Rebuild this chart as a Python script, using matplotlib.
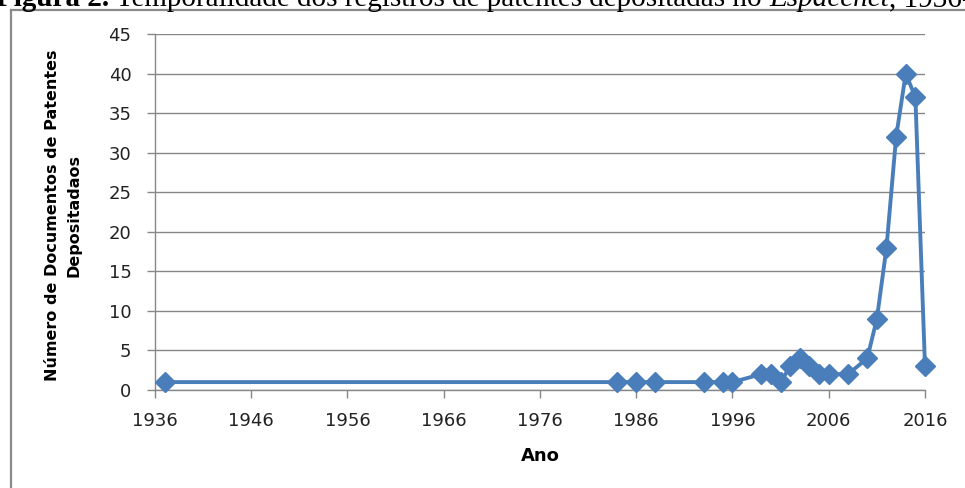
import matplotlib
matplotlib.use("Agg")
import matplotlib.pyplot as plt
from matplotlib.lines import Line2D

# Patent filings per year
years = [1937, 1984, 1986, 1988, 1993, 1995, 1996, 1999, 2000, 2001, 2002,
         2003, 2004, 2005, 2006, 2008, 2010, 2011, 2012, 2013, 2014, 2015, 2016]
counts = [1, 1, 1, 1, 1, 1, 1, 2, 2, 1, 3,
          4, 3, 2, 2, 2, 4, 9, 18, 32, 40, 37, 3]

x_ticks = [1936, 1946, 1956, 1966, 1976, 1986, 1996, 2006, 2016]
y_ticks = [0, 5, 10, 15, 20, 25, 30, 35, 40, 45]

W, H = 965, 488
fig = plt.figure(figsize=(W / 100, H / 100), dpi=100)

# chart frame (left and top edges)
frame_col = "#8a8a8a"
fig.add_artist(Line2D([11 / W, 11 / W], [0, 1 - 10 / H], color=frame_col, lw=1.6,
                      transform=fig.transFigure))
fig.add_artist(Line2D([11 / W, 1], [1 - 10 / H, 1 - 10 / H], color=frame_col, lw=1.6,
                      transform=fig.transFigure))

# caption above the chart
renderer = fig.canvas.get_renderer()
cap_y = 1 - 6 / H
cap_size = 21
parts = [("Figura 2.", "bold", "normal"),
         (" Temporalidade dos registros de patentes depositadas no ", "normal", "normal"),
         ("Espacenet", "normal", "italic"),
         (", 1936-2016", "normal", "normal")]
x0 = -4
for txt, wt, st in parts:
    t = fig.text(x0 / W, cap_y, txt, fontsize=cap_size, family="Liberation Serif",
                 fontweight=wt, fontstyle=st, va="baseline", ha="left")
    bb = t.get_window_extent(renderer=renderer)
    x0 += bb.width

ax = fig.add_axes([155 / W, 1 - 390 / H, (925 - 155) / W, (390 - 34) / H])

blue = "#4A7EBB"
ax.plot(years, counts, color=blue, lw=2.8, marker="D", markersize=10,
        markerfacecolor=blue, markeredgecolor=blue, markeredgewidth=1,
        solid_joinstyle="round", clip_on=False, zorder=3)

ax.set_xlim(1936, 2016)
ax.set_ylim(0, 45)
ax.set_xticks(x_ticks)
ax.set_yticks(y_ticks)

grid_col = "#878787"
ax.yaxis.grid(True, color=grid_col, lw=1)
ax.set_axisbelow(True)
for side in ("top", "right"):
    ax.spines[side].set_visible(False)
for side in ("left", "bottom"):
    ax.spines[side].set_color(grid_col)
    ax.spines[side].set_linewidth(1)

ax.tick_params(axis="both", direction="out", length=6, width=1, color=grid_col,
               labelsize=13, labelcolor="#222222")
ax.tick_params(axis="x", pad=10)
ax.tick_params(axis="y", pad=11)

ax.set_xlabel("Ano", fontsize=13, fontweight="bold", labelpad=12)
fig.text(63.5 / W, 1 - 215 / H, "Número de Documentos de Patentes\nDepositadaos",
         rotation=90, ha="center", va="center", multialignment="center",
         fontsize=11.5, fontweight="bold", linespacing=1.55)

fig.savefig("out.png", dpi=100)
